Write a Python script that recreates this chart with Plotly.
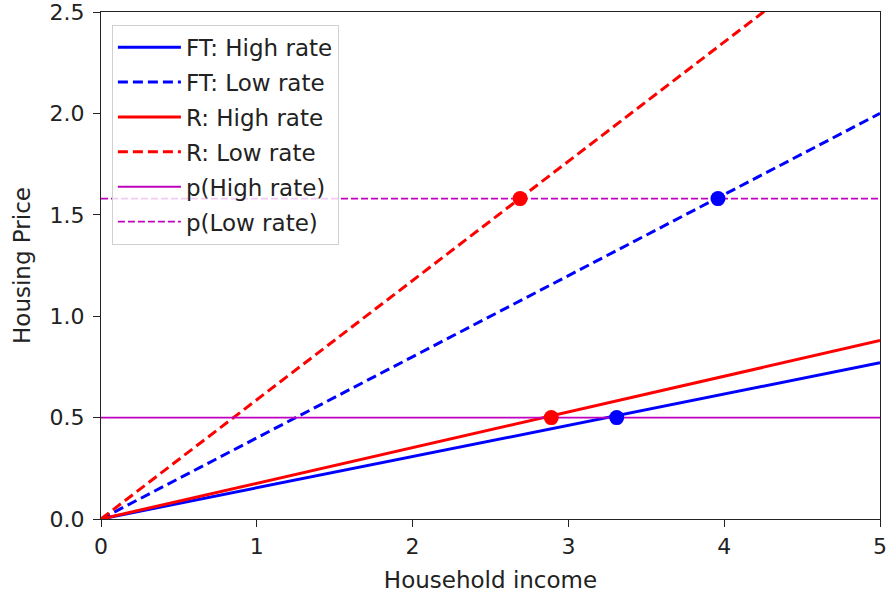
import plotly.graph_objects as go

# Data
x_ends = [0, 5]
ft_high = [0, 0.77]
ft_low = [0, 2.0]
r_high = [0, 0.88]
r_low = [0, 2.94]
p_high_rate = [0.5, 0.5]
p_low_rate = [1.58, 1.58]

red_pts_x = [2.69, 2.89]
red_pts_y = [1.58, 0.5]
blue_pts_x = [3.96, 3.31]
blue_pts_y = [1.58, 0.5]

x_ticks = [0, 1, 2, 3, 4, 5]
y_ticks = [0.0, 0.5, 1.0, 1.5, 2.0, 2.5]

FONT = "DejaVu Sans"
BLUE = "#0000ff"
RED = "#ff0000"
MAG = "#bf00bf"

fig = go.Figure()
series = [
    ("FT: High rate", ft_high, BLUE, "solid", 3),
    ("FT: Low rate", ft_low, BLUE, "10px,5px", 3),
    ("R: High rate", r_high, RED, "solid", 3),
    ("R: Low rate", r_low, RED, "10px,5px", 3),
    ("p(High rate)", p_high_rate, MAG, "solid", 1.8),
    ("p(Low rate)", p_low_rate, MAG, "7px,3px", 1.8),
]
for i, (name, ys, col, dash, w) in enumerate(series):
    fig.add_trace(go.Scatter(
        x=x_ends, y=ys, mode="lines", name=name, legendgroup=f"g{i}",
        line=dict(color=col, dash=dash, width=w),
    ))

fig.add_trace(go.Scatter(x=red_pts_x, y=red_pts_y, mode="markers",
                         marker=dict(color=RED, size=15), showlegend=False))
fig.add_trace(go.Scatter(x=blue_pts_x, y=blue_pts_y, mode="markers",
                         marker=dict(color=BLUE, size=15), showlegend=False))

axis_common = dict(
    showline=True, linecolor="#222", linewidth=1.3, mirror=True,
    ticks="outside", ticklen=7, tickwidth=1.3, tickcolor="#222",
    showgrid=False, zeroline=False, automargin=False,
    ticklabeloverflow="allow",
    tickfont=dict(family=FONT, size=22, color="#222"),
)

fig.update_layout(
    width=889, height=594,
    margin=dict(l=101, r=9, t=12, b=75),
    plot_bgcolor="white", paper_bgcolor="white",
    font=dict(family=FONT, size=22, color="#222"),
    xaxis=dict(range=[0, 5], tickvals=x_ticks, ticktext=[str(v) for v in x_ticks],
               title=dict(text="Household income", font=dict(size=23), standoff=14),
               **axis_common),
    yaxis=dict(range=[0, 2.5], tickvals=y_ticks, ticktext=[f"{v:.1f}" for v in y_ticks],
               title=dict(text="Housing Price", font=dict(size=23), standoff=12),
               ticklabelstandoff=4,
               **axis_common),
    legend=dict(
        x=0.014, y=0.975, xanchor="left", yanchor="top",
        bgcolor="rgba(255,255,255,0.8)", bordercolor="#d0d0d0", borderwidth=1,
        font=dict(family=FONT, size=23, color="#222"),
        tracegroupgap=2, traceorder="grouped", itemwidth=63,
    ),
    showlegend=True,
)

fig.write_html("out.html", config={"displayModeBar": False},
               post_script="document.body.style.margin='0';document.body.style.overflow='hidden';")
